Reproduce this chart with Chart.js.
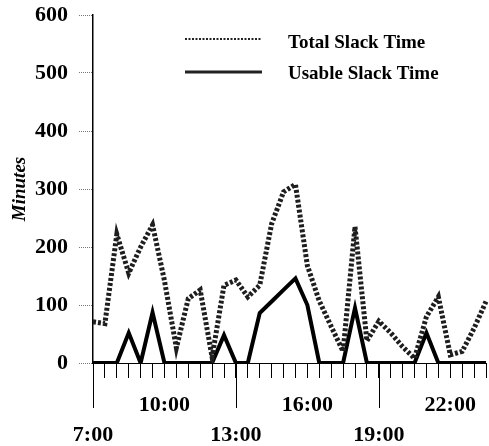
<!DOCTYPE html>
<html>
<head>
<meta charset="utf-8">
<script src="https://cdn.jsdelivr.net/npm/chart.js@4/dist/chart.umd.min.js"></script>
<style>
  html, body { margin: 0; padding: 0; background: #fff; }
  #wrap { width: 489px; height: 446px; }
</style>
</head>
<body>
<div id="wrap"><canvas id="slackChart"></canvas></div>
<script>
// 30分ごとの時刻
const times = ['7:00','7:30','8:00','8:30','9:00','9:30','10:00','10:30','11:00','11:30',
  '12:00','12:30','13:00','13:30','14:00','14:30','15:00','15:30','16:00','16:30',
  '17:00','17:30','18:00','18:30','19:00','19:30','20:00','20:30','21:00','21:30',
  '22:00','22:30','23:00','23:30'];
const totalSlack = [71, 68, 222, 155, 200, 238, 142, 26, 111, 126, 10, 134, 143, 114, 134, 240, 295,
  308, 168, 107, 63, 20, 235, 38, 72, 52, 28, 8, 80, 114, 14, 20, 60, 106];
const usableSlack = [0, 0, 0, 52, 0, 87, 0, 0, 0, 0, 0, 48, 0, 0, 86, 106, 126,
  146, 100, 0, 0, 0, 95, 0, 0, 0, 0, 0, 52, 0, 0, 0, 0, 0];
const upperLabels = ['10:00', '16:00', '22:00'];
const lowerLabels = ['7:00', '13:00', '19:00'];
const yTicks = [0, 100, 200, 300, 400, 500, 600];
const seriesNames = ['Total Slack Time', 'Usable Slack Time'];

const serif = '"Liberation Serif", "Times New Roman", serif';

// 長い目盛りと凡例
const extras = {
    id: 'extras',
    afterDraw(chart) {
        const ctx = chart.ctx;
        const xs = chart.scales.x;
        const area = chart.chartArea;
        ctx.save();
        ctx.strokeStyle = '#000';
        ctx.lineWidth = 1;
        lowerLabels.forEach(t => {
            const x = Math.round(xs.getPixelForValue(times.indexOf(t))) + 0.5;
            ctx.beginPath();
            ctx.moveTo(x, area.bottom);
            ctx.lineTo(x, area.bottom + 45);
            ctx.stroke();
        });

        // 凡例
        ctx.font = 'bold 19px ' + serif;
        ctx.fillStyle = '#000';
        ctx.textBaseline = 'middle';
        ctx.strokeStyle = '#222';
        ctx.lineWidth = 2;
        ctx.setLineDash([2, 1.5]);
        ctx.beginPath();
        ctx.moveTo(185, 39);
        ctx.lineTo(262, 39);
        ctx.stroke();
        ctx.setLineDash([]);
        ctx.lineWidth = 3;
        ctx.beginPath();
        ctx.moveTo(185, 72);
        ctx.lineTo(262, 72);
        ctx.stroke();
        ctx.fillText(seriesNames[0], 288, 43);
        ctx.fillText(seriesNames[1], 288, 74);
        ctx.restore();
    }
};

const ctx = document.getElementById('slackChart').getContext('2d');
new Chart(ctx, {
    type: 'line',
    data: {
        labels: times,
        datasets: [{
            label: seriesNames[0],
            data: totalSlack,
            borderColor: '#1e1e1e',
            borderWidth: 5,
            borderDash: [3, 2],
            pointRadius: 0,
            tension: 0
        }, {
            label: seriesNames[1],
            data: usableSlack,
            borderColor: '#000',
            borderWidth: 4,
            pointRadius: 0,
            tension: 0
        }]
    },
    options: {
        responsive: true,
        maintainAspectRatio: false,
        animation: false,
        layout: { padding: { top: 15, right: 3, left: 0, bottom: 0 } },
        plugins: {
            legend: { display: false },
            tooltip: { enabled: false }
        },
        scales: {
            x: {
                type: 'category',
                offset: false,
                border: { display: true, color: '#000', width: 1 },
                grid: { drawOnChartArea: false, drawTicks: true, tickLength: 15, tickColor: '#000', tickWidth: 1 },
                ticks: {
                    autoSkip: false,
                    maxRotation: 0,
                    padding: 12,
                    color: '#000',
                    font: { family: serif, size: 22, weight: 'bold', lineHeight: 1.36 },
                    callback: function(val, i) {
                        const t = times[i];
                        if (upperLabels.includes(t)) return [t, ''];
                        if (lowerLabels.includes(t)) return ['', t];
                        return '';
                    }
                },
                afterFit(scale) {
                    scale.height = 83;
                    scale.paddingLeft = 0;
                    scale.paddingRight = 0;
                }
            },
            y: {
                min: yTicks[0],
                max: yTicks[yTicks.length - 1],
                border: { display: true, color: '#000', width: 1.5 },
                grid: { drawOnChartArea: false, drawTicks: true, tickLength: 14, tickColor: '#777', tickWidth: 1, tickBorderDash: [1, 1] },
                afterBuildTicks(scale) { scale.ticks = yTicks.map(v => ({ value: v })); },
                ticks: {
                    padding: 11,
                    color: '#000',
                    font: { family: serif, size: 22, weight: 'bold' }
                },
                title: {
                    display: true,
                    text: 'Minutes',
                    color: '#000',
                    padding: { top: 9, bottom: 0 },
                    font: { family: serif, size: 19, weight: 'bold', style: 'italic' }
                },
                afterFit(scale) {
                    scale.width = 93;
                    scale.paddingTop = 0;
                    scale.paddingBottom = 0;
                }
            }
        }
    },
    plugins: [extras]
});
</script>
</body>
</html>
